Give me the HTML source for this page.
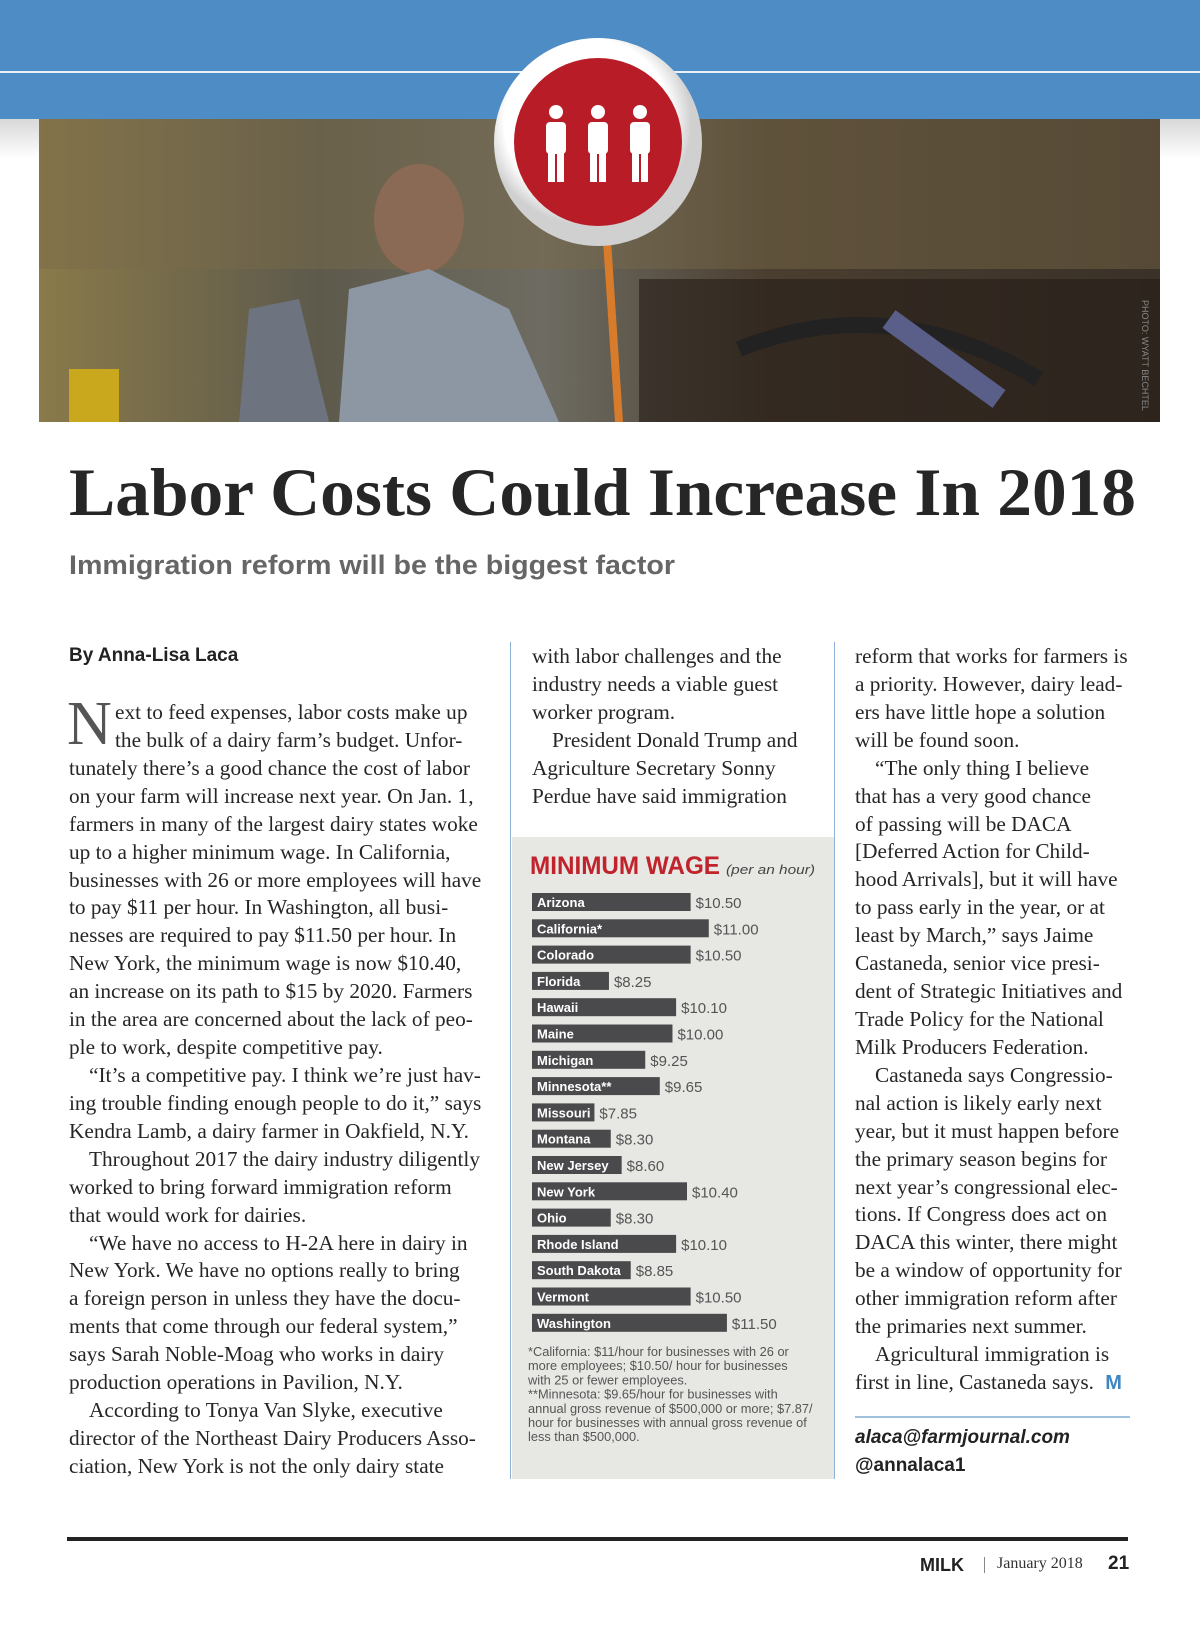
<!DOCTYPE html>
<html><head><meta charset="utf-8"><style>
*{margin:0;padding:0;box-sizing:border-box}
body{width:1200px;height:1625px;position:relative;background:#fff;overflow:hidden;font-family:"Liberation Serif",serif;color:#222}
.abs{position:absolute;white-space:nowrap}
.col{position:absolute;font-size:21.3px;line-height:27.93px;color:#262626;white-space:nowrap}
.col div{height:27.93px}
.ind{padding-left:20px}
</style></head><body>
<div class="abs" style="left:0;top:0;width:1200px;height:119px;background:#4d8cc4"></div>
<div class="abs" style="left:0;top:71px;width:1200px;height:2px;background:#e8f0f8"></div>
<div class="abs" style="left:0;top:119px;width:1200px;height:40px;background:linear-gradient(#d8d8d8,#fff)"></div>
<svg class="abs" style="left:39px;top:119px" width="1121" height="303">
<defs><linearGradient id="pg" x1="0" x2="1"><stop offset="0" stop-color="#8a7a4a"/><stop offset=".25" stop-color="#5d5a4c"/><stop offset=".45" stop-color="#6e6c62"/><stop offset=".65" stop-color="#4a3e30"/><stop offset="1" stop-color="#3a3128"/></linearGradient></defs>
<rect width="1121" height="303" fill="url(#pg)"/>
<rect x="0" y="0" width="1121" height="150" fill="#7a6a4a" opacity=".45"/>
<rect x="600" y="160" width="521" height="143" fill="#241d18" opacity=".6"/>
<ellipse cx="380" cy="100" rx="45" ry="55" fill="#8a6a55"/>
<path d="M300 303 L310 170 L390 150 L470 190 L520 303Z" fill="#8d96a3"/>
<path d="M200 303 L210 190 L260 180 L290 303Z" fill="#6d7480"/>
<rect x="30" y="250" width="50" height="53" fill="#c9a81e"/>
<path d="M560 0 L580 303" stroke="#d87b2a" stroke-width="8"/>
<path d="M700 230 Q850 170 1000 260" stroke="#222" stroke-width="16" fill="none"/>
<path d="M850 200 L960 280" stroke="#5a5f8a" stroke-width="22"/>
</svg>
<div class="abs" style="left:1150px;top:300px;font:9px 'Liberation Sans',sans-serif;color:#888;transform:rotate(90deg);transform-origin:0 0">PHOTO: WYATT BECHTEL</div>
<svg class="abs" style="left:488px;top:32px" width="220" height="220">
<defs><radialGradient id="rg" cx=".45" cy=".4"><stop offset=".8" stop-color="#fff"/><stop offset="1" stop-color="#d0d0d0"/></radialGradient></defs>
<circle cx="110" cy="110" r="104" fill="url(#rg)"/>
<circle cx="110" cy="110" r="84" fill="#b81d27"/>
<g fill="#fff">
<circle cx="68" cy="80" r="7"/><rect x="58" y="90" width="20" height="32" rx="4"/><rect x="60" y="118" width="7" height="32"/><rect x="69" y="118" width="7" height="32"/>
<circle cx="110" cy="80" r="7"/><rect x="100" y="90" width="20" height="32" rx="4"/><rect x="102" y="118" width="7" height="32"/><rect x="111" y="118" width="7" height="32"/>
<circle cx="152" cy="80" r="7"/><rect x="142" y="90" width="20" height="32" rx="4"/><rect x="144" y="118" width="7" height="32"/><rect x="153" y="118" width="7" height="32"/>
</g></svg>
<svg class="abs" style="left:0;top:455px" width="1200" height="80"><text x="69" y="60" textLength="1067" lengthAdjust="spacingAndGlyphs" font-family="Liberation Serif, serif" font-weight="bold" font-size="68" fill="#262626">Labor Costs Could Increase In 2018</text></svg>
<svg class="abs" style="left:0;top:545px" width="800" height="40"><text x="69" y="29" textLength="606" lengthAdjust="spacingAndGlyphs" font-family="Liberation Sans, sans-serif" font-weight="bold" font-size="27" fill="#666">Immigration reform will be the biggest factor</text></svg>
<div class="abs" style="left:69px;top:645px;font:bold 19px 'Liberation Sans',sans-serif;color:#222">By Anna-Lisa Laca</div>
<div class="abs" style="left:510px;top:642px;width:1px;height:837px;background:#8fb3d6"></div>
<div class="abs" style="left:834px;top:642px;width:1px;height:837px;background:#8fb3d6"></div>
<div class="abs" style="left:67px;top:693px;font-size:62px;line-height:62px;color:#555">N</div>
<div class="col" style="left:69px;top:699px">
<div style="padding-left:46px">ext to feed expenses, labor costs make up</div>
<div style="padding-left:46px">the bulk of a dairy farm’s budget. Unfor-</div>
<div>tunately there’s a good chance the cost of labor</div>
<div>on your farm will increase next year. On Jan. 1,</div>
<div>farmers in many of the largest dairy states woke</div>
<div>up to a higher minimum wage. In California,</div>
<div>businesses with 26 or more employees will have</div>
<div>to pay $11 per hour. In Washington, all busi-</div>
<div>nesses are required to pay $11.50 per hour. In</div>
<div>New York, the minimum wage is now $10.40,</div>
<div>an increase on its path to $15 by 2020. Farmers</div>
<div>in the area are concerned about the lack of peo-</div>
<div>ple to work, despite competitive pay.</div>
<div class="ind">“It’s a competitive pay. I think we’re just hav-</div>
<div>ing trouble finding enough people to do it,” says</div>
<div>Kendra Lamb, a dairy farmer in Oakfield, N.Y.</div>
<div class="ind">Throughout 2017 the dairy industry diligently</div>
<div>worked to bring forward immigration reform</div>
<div>that would work for dairies.</div>
<div class="ind">“We have no access to H-2A here in dairy in</div>
<div>New York. We have no options really to bring</div>
<div>a foreign person in unless they have the docu-</div>
<div>ments that come through our federal system,”</div>
<div>says Sarah Noble-Moag who works in dairy</div>
<div>production operations in Pavilion, N.Y.</div>
<div class="ind">According to Tonya Van Slyke, executive</div>
<div>director of the Northeast Dairy Producers Asso-</div>
<div>ciation, New York is not the only dairy state</div>
</div>
<div class="col" style="left:532px;top:643px">
<div>with labor challenges and the</div>
<div>industry needs a viable guest</div>
<div>worker program.</div>
<div class="ind">President Donald Trump and</div>
<div>Agriculture Secretary Sonny</div>
<div>Perdue have said immigration</div>
</div>
<div class="col" style="left:855px;top:643px">
<div>reform that works for farmers is</div>
<div>a priority. However, dairy lead-</div>
<div>ers have little hope a solution</div>
<div>will be found soon.</div>
<div class="ind">“The only thing I believe</div>
<div>that has a very good chance</div>
<div>of passing will be DACA</div>
<div>[Deferred Action for Child-</div>
<div>hood Arrivals], but it will have</div>
<div>to pass early in the year, or at</div>
<div>least by March,” says Jaime</div>
<div>Castaneda, senior vice presi-</div>
<div>dent of Strategic Initiatives and</div>
<div>Trade Policy for the National</div>
<div>Milk Producers Federation.</div>
<div class="ind">Castaneda says Congressio-</div>
<div>nal action is likely early next</div>
<div>year, but it must happen before</div>
<div>the primary season begins for</div>
<div>next year’s congressional elec-</div>
<div>tions. If Congress does act on</div>
<div>DACA this winter, there might</div>
<div>be a window of opportunity for</div>
<div>other immigration reform after</div>
<div>the primaries next summer.</div>
<div class="ind">Agricultural immigration is</div>
<div>first in line, Castaneda says. <span style="font:bold 20px 'Liberation Sans',sans-serif;color:#3f86c4;margin-left:6px">M</span></div>
</div>
<div class="abs" style="left:855px;top:1416px;width:275px;height:2px;background:#9fc1dd"></div>
<div class="abs" style="left:855px;top:1427px;font:italic bold 19px 'Liberation Sans',sans-serif;color:#222">alaca@farmjournal.com</div>
<div class="abs" style="left:855px;top:1455px;font:bold 19px 'Liberation Sans',sans-serif;color:#222">@annalaca1</div>

<svg id="chart" class="abs" style="left:512px;top:837px" width="322" height="642"></svg>
<script>
const states=["Arizona","California*","Colorado","Florida","Hawaii","Maine","Michigan","Minnesota**","Missouri","Montana","New Jersey","New York","Ohio","Rhode Island","South Dakota","Vermont","Washington"];
const wages=[10.50,11.00,10.50,8.25,10.10,10.00,9.25,9.65,7.85,8.30,8.60,10.40,8.30,10.10,8.85,10.50,11.50];
const wageLabels=["$10.50","$11.00","$10.50","$8.25","$10.10","$10.00","$9.25","$9.65","$7.85","$8.30","$8.60","$10.40","$8.30","$10.10","$8.85","$10.50","$11.50"];
const NS="http://www.w3.org/2000/svg";
const svg=document.getElementById('chart');
function mk(t,a){const e=document.createElementNS(NS,t);for(const k in a)e.setAttribute(k,a[k]);svg.appendChild(e);return e;}
const bg=mk('rect',{x:0,y:0,width:322,height:642,fill:'#e7e7e4'});


const title=mk('text',{x:18,y:37,'font-family':'Liberation Sans, sans-serif','font-size':25,'font-weight':'bold',fill:'#c0232c',textLength:190,lengthAdjust:'spacingAndGlyphs'});
title.textContent='MINIMUM WAGE';


const sub=mk('text',{x:214,y:37,'font-family':'Liberation Sans, sans-serif','font-size':13,'font-style':'italic',fill:'#444',textLength:89,lengthAdjust:'spacingAndGlyphs'});
sub.textContent='(per an hour)';


const x0=20, scale=36.3, base=6.13;
function xw(v){return (v-base)*scale;}
function yc(i){return 65+i*26.3;}
states.forEach((s,i)=>{
  const w=xw(wages[i]);
  const r=mk('rect',{x:x0,y:yc(i)-9,width:w,height:18,fill:'#4a4a4c'});
  
  
  const t=mk('text',{x:x0+5,y:yc(i)+5,'font-family':'Liberation Sans, sans-serif','font-size':13,'font-weight':'bold',fill:'#fff'});
  t.textContent=s;
  
  
  const v=mk('text',{x:x0+w+5,y:yc(i)+6,'font-family':'Liberation Sans, sans-serif','font-size':15,fill:'#555'});
  v.textContent=wageLabels[i];
  
  
});
const notes=["*California: $11/hour for businesses with 26 or","more employees; $10.50/ hour for businesses","with 25 or fewer employees.","**Minnesota: $9.65/hour for businesses with","annual gross revenue of $500,000 or more; $7.87/","hour for businesses with annual gross revenue of","less than $500,000."];
notes.forEach((n,i)=>{
  const t=mk('text',{x:16,y:519+i*14.2,'font-family':'Liberation Sans, sans-serif','font-size':12.8,fill:'#555'});
  t.textContent=n;
  
  
});
</script>

<div class="abs" style="left:67px;top:1537px;width:1061px;height:4px;background:#222"></div>
<div class="abs" style="left:920px;top:1555px;font:bold 18px 'Liberation Sans',sans-serif;color:#222">MILK</div>
<div class="abs" style="left:984px;top:1557px;width:1px;height:16px;background:#888"></div>
<div class="abs" style="left:997px;top:1555px;font:16px 'Liberation Serif',serif;color:#333">January 2018</div>
<div class="abs" style="left:1108px;top:1553px;font:bold 19px 'Liberation Sans',sans-serif;color:#222">21</div>
</body></html>
